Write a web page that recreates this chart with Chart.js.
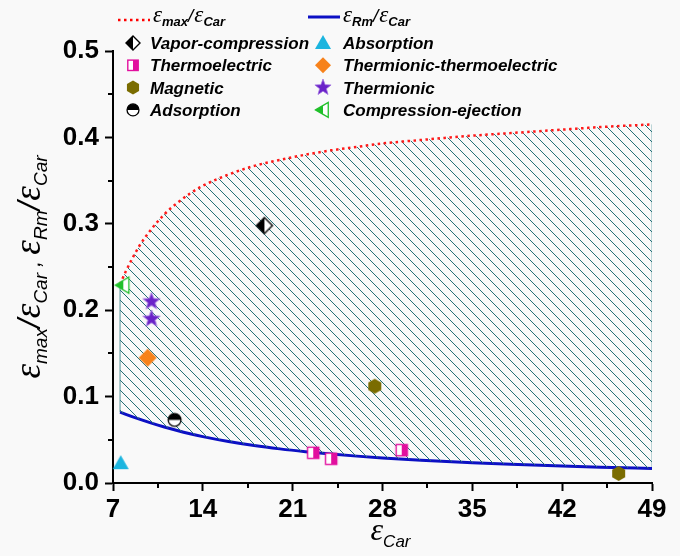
<!DOCTYPE html>
<html>
<head>
<meta charset="utf-8">
<script src="https://cdn.jsdelivr.net/npm/chart.js@4.4.1/dist/chart.umd.min.js"></script>
<style>
  html, body { margin: 0; padding: 0; background: #f9f9f9; }
  canvas { display: block; }
</style>
</head>
<body>
<canvas id="grafico" width="680" height="556"></canvas>
<script>
// curvas (eps_Car vs relacion)
const curveX   = [7.55, 8, 9, 10, 11, 12, 13, 14, 16, 18, 20, 22, 24, 26, 28, 31, 35, 38, 42, 45, 49];
const ratioMax = [0.230, 0.245, 0.273, 0.294, 0.311, 0.324, 0.335, 0.344, 0.357, 0.367, 0.374, 0.380, 0.385, 0.389, 0.393, 0.397, 0.402, 0.405, 0.409, 0.412, 0.415];
const ratioRm  = [0.082, 0.0795, 0.0742, 0.0693, 0.0648, 0.0607, 0.0570, 0.0537, 0.0480, 0.0433, 0.0395, 0.0363, 0.0335, 0.0311, 0.0290, 0.0263, 0.0234, 0.0216, 0.0196, 0.0183, 0.0168];

// puntos de cada tipo de refrigerador
const vaporX = [18.8],              vaporY = [0.298];
const absorX = [7.6],               absorY = [0.023];
const teX    = [22.6, 24.0, 29.5],  teY    = [0.035, 0.028, 0.038];
const tteX   = [9.7],               tteY   = [0.145];
const magX   = [27.4, 46.4],        magY   = [0.112, 0.011];
const tiX    = [10.0, 10.0],        tiY    = [0.21, 0.19];
const adsX   = [11.8],              adsY   = [0.073];
const ceX    = [7.8],               ceY    = [0.229];

// ticks
const xTicks = [7, 14, 21, 28, 35, 42, 49];
const yTicks = [0, 0.1, 0.2, 0.3, 0.4, 0.5];
const xMinor = [10.5, 17.5, 24.5, 31.5, 38.5, 45.5];
const yMinor = [0.05, 0.15, 0.25, 0.35, 0.45];

const SANS = "'Liberation Sans', Arial, sans-serif";
const SERIF = "'Liberation Serif', 'Times New Roman', serif";

const colores = {
  vapor: '#000000', absor: '#1cb5df', te: '#e2109e', tte: '#f7821b',
  mag: '#7a6c00', ti: '#6a22c8', ads: '#000000', ce: '#20c02a'
};

function pts(xs, ys) {
  return xs.map((x, i) => ({ x: x, y: ys[i] }));
}

// dibuja un marcador en (cx, cy) con medio tamaño s
function dibujarMarcador(g, tipo, cx, cy, s) {
  g.save();
  g.lineJoin = 'miter';
  if (tipo === 'vapor' || tipo === 'tte') {
    g.beginPath();
    g.moveTo(cx, cy - s); g.lineTo(cx + s, cy); g.lineTo(cx, cy + s); g.lineTo(cx - s, cy); g.closePath();
    if (tipo === 'tte') {
      g.fillStyle = colores.tte; g.fill();
    } else {
      g.fillStyle = '#fff'; g.fill();
      g.save(); g.clip(); g.fillStyle = '#000'; g.fillRect(cx - s - 1, cy - s - 1, s + 1, 2 * s + 2); g.restore();
      g.strokeStyle = '#000'; g.lineWidth = 1.4; g.stroke();
    }
  } else if (tipo === 'te') {
    const h = s * 0.8;
    g.fillStyle = '#fff'; g.fillRect(cx - h, cy - h, 2 * h, 2 * h);
    g.fillStyle = colores.te; g.fillRect(cx, cy - h, h, 2 * h);
    g.strokeStyle = colores.te; g.lineWidth = 1.4; g.strokeRect(cx - h, cy - h, 2 * h, 2 * h);
  } else if (tipo === 'mag') {
    g.beginPath();
    for (let k = 0; k < 6; k++) {
      const a = -Math.PI / 2 + k * Math.PI / 3;
      const px = cx + s * Math.cos(a), py = cy + s * Math.sin(a);
      if (k === 0) g.moveTo(px, py); else g.lineTo(px, py);
    }
    g.closePath(); g.fillStyle = colores.mag; g.fill();
  } else if (tipo === 'ads') {
    const r = s * 0.85;
    g.beginPath(); g.arc(cx, cy, r, 0, Math.PI * 2);
    g.fillStyle = '#fff'; g.fill();
    g.beginPath(); g.arc(cx, cy, r, Math.PI, Math.PI * 2); g.closePath();
    g.fillStyle = '#000'; g.fill();
    g.beginPath(); g.arc(cx, cy, r, 0, Math.PI * 2);
    g.strokeStyle = '#000'; g.lineWidth = 1.3; g.stroke();
  } else if (tipo === 'absor') {
    g.beginPath();
    g.moveTo(cx, cy - s); g.lineTo(cx + s, cy + s * 0.75); g.lineTo(cx - s, cy + s * 0.75); g.closePath();
    g.fillStyle = colores.absor; g.fill();
  } else if (tipo === 'ti') {
    g.beginPath();
    for (let k = 0; k < 10; k++) {
      const a = -Math.PI / 2 + k * Math.PI / 5;
      const r = k % 2 === 0 ? s : s * 0.42;
      const px = cx + r * Math.cos(a), py = cy + r * Math.sin(a);
      if (k === 0) g.moveTo(px, py); else g.lineTo(px, py);
    }
    g.closePath(); g.fillStyle = colores.ti; g.fill();
    g.strokeStyle = '#a070e0'; g.lineWidth = 0.8; g.stroke();
  } else if (tipo === 'ce') {
    g.beginPath();
    g.moveTo(cx - s, cy); g.lineTo(cx + s * 0.7, cy - s); g.lineTo(cx + s * 0.7, cy + s); g.closePath();
    g.fillStyle = '#fff'; g.fill();
    g.save(); g.clip(); g.fillStyle = colores.ce; g.fillRect(cx - s - 1, cy - s - 1, s + 1, 2 * s + 2); g.restore();
    g.strokeStyle = colores.ce; g.lineWidth = 1.3; g.stroke();
  }
  g.restore();
}

function imagenMarcador(tipo, s) {
  const c = document.createElement('canvas');
  const n = Math.ceil(2 * s + 4);
  c.width = n; c.height = n;
  dibujarMarcador(c.getContext('2d'), tipo, n / 2, n / 2, s);
  return c;
}

function rayado() {
  const c = document.createElement('canvas');
  c.width = 10; c.height = 10;
  const g = c.getContext('2d');
  g.strokeStyle = '#246f76'; g.lineWidth = 1;
  g.beginPath(); g.moveTo(-1, -1); g.lineTo(11, 11); g.stroke();
  return g.createPattern(c, 'repeat');
}

// texto con subindices: piezas {t, f, dy}
function textoRico(g, x, y, piezas, medir) {
  let w = 0;
  piezas.forEach(p => {
    g.font = p.f;
    if (!medir) g.fillText(p.t, x + w, y + (p.dy || 0));
    w += g.measureText(p.t).width + (p.gap || 0);
  });
  return w;
}

function epsPiezas(eps, sub, sub2, epsF, subF, slashF, dy) {
  return [
    { t: 'ε', f: epsF }, { t: sub, f: subF, dy: dy },
    { t: '/', f: slashF, gap: 1 },
    { t: 'ε', f: epsF }, { t: sub2, f: subF, dy: dy }
  ];
}

const leyenda = [
  ['vapor', 'Vapor-compression', 'absor', 'Absorption'],
  ['te', 'Thermoelectric', 'tte', 'Thermionic-thermoelectric'],
  ['mag', 'Magnetic', 'ti', 'Thermionic'],
  ['ads', 'Adsorption', 'ce', 'Compression-ejection']
];
const tamLeyenda = { vapor: 7, te: 6.5, mag: 7, ads: 7, absor: 8, tte: 8, ti: 8.5, ce: 7.5 };

const extras = {
  id: 'extras',
  afterDraw(chart) {
    const g = chart.ctx;
    const xs = chart.scales.x, ys = chart.scales.y;
    g.save();
    // ticks menores
    g.strokeStyle = '#000'; g.lineWidth = 2;
    xMinor.forEach(v => {
      const px = Math.round(xs.getPixelForValue(v));
      g.beginPath(); g.moveTo(px, ys.bottom); g.lineTo(px, ys.bottom + 5); g.stroke();
    });
    yMinor.forEach(v => {
      const py = Math.round(ys.getPixelForValue(v));
      g.beginPath(); g.moveTo(xs.left, py); g.lineTo(xs.left - 5, py); g.stroke();
    });

    // leyenda
    g.fillStyle = '#000';
    g.textBaseline = 'alphabetic';
    g.strokeStyle = '#f00'; g.lineWidth = 2.5; g.setLineDash([2.5, 3.5]);
    g.beginPath(); g.moveTo(118, 20); g.lineTo(150, 20); g.stroke();
    g.setLineDash([]);
    g.strokeStyle = '#0c10c4'; g.lineWidth = 3;
    g.beginPath(); g.moveTo(308, 17); g.lineTo(340, 17); g.stroke();
    const epsL = 'italic 23px ' + SERIF, subL = 'italic bold 13px ' + SANS, slL = 'italic 19px ' + SANS;
    textoRico(g, 153, 22, epsPiezas('ε', 'max', 'Car', epsL, subL, slL, 4));
    textoRico(g, 343, 22, epsPiezas('ε', 'Rm', 'Car', epsL, subL, slL, 4));
    leyenda.forEach((fila, i) => {
      const cy = 43 + i * 22.3;
      dibujarMarcador(g, fila[0], 133, cy, tamLeyenda[fila[0]]);
      dibujarMarcador(g, fila[2], 323, cy, tamLeyenda[fila[2]]);
      g.font = 'italic bold 17px ' + SANS;
      g.fillStyle = '#000';
      g.fillText(fila[1], 150, cy + 6);
      g.fillText(fila[3], 343, cy + 6);
    });

    // titulo eje x
    const epsX = 'italic 32px ' + SERIF, subX = 'italic 17px ' + SANS;
    const px = [{ t: 'ε', f: epsX }, { t: 'Car', f: subX, dy: 7 }];
    const wx = textoRico(g, 0, 0, px, true);
    textoRico(g, (xs.left + xs.right) / 2 + 8 - wx / 2, 540, px);

    // titulo eje y
    const epsY = 'italic 37px ' + SERIF, subY = 'italic 19px ' + SANS, slY = 'italic 32px ' + SANS;
    const py = epsPiezas('ε', 'max', 'Car', epsY, subY, slY, 7)
      .concat([{ t: ' , ', f: 'italic 22px ' + SANS }])
      .concat(epsPiezas('ε', 'Rm', 'Car', epsY, subY, slY, 7));
    const wy = textoRico(g, 0, 0, py, true);
    g.translate(27, (ys.top + ys.bottom) / 2);
    g.rotate(-Math.PI / 2);
    textoRico(g, -wy / 2, 13, py);
    g.restore();
  }
};

function marcadores(tipo, xs, ys, s, etiqueta) {
  return {
    label: etiqueta, type: 'line', showLine: false, order: 0,
    data: pts(xs, ys), pointStyle: imagenMarcador(tipo, s),
    pointRadius: s, pointHoverRadius: s, clip: false
  };
}

const ctx = document.getElementById('grafico').getContext('2d');
const bordeIzq = [{ x: curveX[0], y: ratioRm[0] }, { x: curveX[0], y: ratioMax[0] }];
const n = curveX.length - 1;
const bordeDer = [{ x: curveX[n], y: ratioRm[n] }, { x: curveX[n], y: ratioMax[n] }];

new Chart(ctx, {
  type: 'line',
  data: {
    datasets: [
      marcadores('vapor', vaporX, vaporY, 8, 'Vapor-compression'),
      marcadores('absor', absorX, absorY, 8, 'Absorption'),
      marcadores('te', teX, teY, 7, 'Thermoelectric'),
      marcadores('tte', tteX, tteY, 9, 'Thermionic-thermoelectric'),
      marcadores('mag', magX, magY, 7.5, 'Magnetic'),
      marcadores('ti', tiX, tiY, 9, 'Thermionic'),
      marcadores('ads', adsX, adsY, 7.5, 'Adsorption'),
      marcadores('ce', ceX, ceY, 8, 'Compression-ejection'),
      {
        label: 'emax/eCar', order: 1,
        data: pts(curveX, ratioMax),
        borderColor: '#ff1a1a', borderWidth: 2.5, borderDash: [2.5, 3.5],
        pointRadius: 0, cubicInterpolationMode: 'monotone',
        fill: 9, backgroundColor: rayado()
      },
      {
        label: 'eRm/eCar', order: 1,
        data: pts(curveX, ratioRm),
        borderColor: '#0c10c4', borderWidth: 3,
        pointRadius: 0, cubicInterpolationMode: 'monotone', fill: false
      },
      { label: 'izq', order: 2, data: bordeIzq, borderColor: '#4f9096', borderWidth: 1, pointRadius: 0, fill: false },
      { label: 'der', order: 2, data: bordeDer, borderColor: '#7fb0b5', borderWidth: 1, pointRadius: 0, fill: false }
    ]
  },
  options: {
    responsive: false,
    animation: false,
    devicePixelRatio: 1,
    layout: { padding: { left: 0, top: 51, right: 28, bottom: 0 } },
    plugins: { legend: { display: false }, tooltip: { enabled: false } },
    scales: {
      x: {
        type: 'linear', min: 7, max: 49,
        afterFit: s => { s.height = 73; },
        afterBuildTicks: s => { s.ticks = xTicks.map(v => ({ value: v })); },
        border: { display: true, color: '#000', width: 2 },
        grid: { drawOnChartArea: false, drawTicks: true, tickLength: 8, tickColor: '#000', tickWidth: 2 },
        ticks: { color: '#000', padding: 3, maxRotation: 0, font: { family: SANS, size: 26, weight: 'bold' } }
      },
      y: {
        min: 0, max: 0.5,
        afterFit: s => { s.width = 113; },
        afterBuildTicks: s => { s.ticks = yTicks.map(v => ({ value: v })); },
        border: { display: true, color: '#000', width: 2 },
        grid: { drawOnChartArea: false, drawTicks: true, tickLength: 8, tickColor: '#000', tickWidth: 2 },
        ticks: { color: '#000', padding: 6, callback: v => v.toFixed(1), font: { family: SANS, size: 26, weight: 'bold' } }
      }
    }
  },
  plugins: [extras]
});
</script>
</body>
</html>
